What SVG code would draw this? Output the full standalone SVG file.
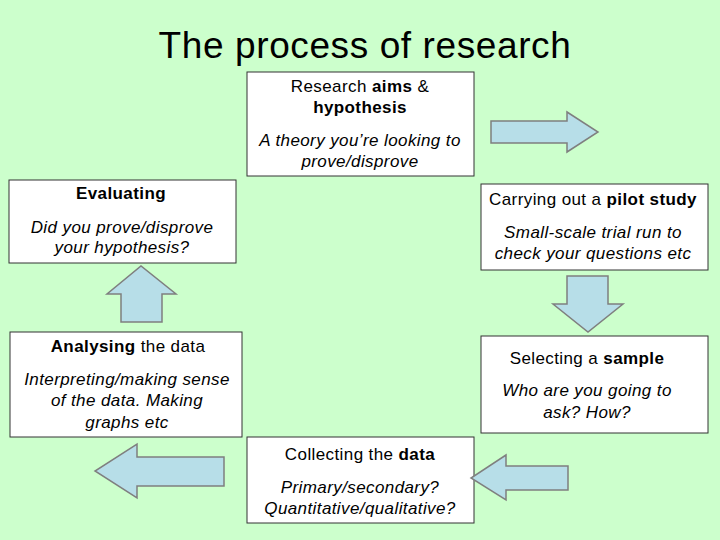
<svg xmlns="http://www.w3.org/2000/svg" width="720" height="540" viewBox="0 0 720 540">
<style>
text{font-family:"Liberation Sans",Arial,sans-serif;font-size:17px;letter-spacing:0.4px;fill:#000;text-anchor:middle}
.t{font-size:37px;letter-spacing:0.6px}
.b{font-weight:bold}
.i{font-style:italic}
.box{fill:#fff;stroke:#333;stroke-width:1}
.arr{fill:#b7dee8;stroke:#7f7f7f;stroke-width:1.5}
</style>
<rect width="720" height="540" fill="#ccffcc"/>
<text class="t" x="365" y="58">The process of research</text>
<g id="aims"><rect class="box" x="247" y="72" width="227" height="104"/>
<text x="360" y="92">Research <tspan class="b">aims</tspan> &amp;</text>
<text x="360" y="113" class="b">hypothesis</text>
<text x="360" y="146" class="i">A theory you’re looking to</text>
<text x="360" y="167" class="i">prove/disprove</text></g>
<g id="evaluating"><rect class="box" x="9" y="180" width="227" height="83"/>
<text x="121" y="199" class="b">Evaluating</text>
<text x="122" y="233" class="i">Did you prove/disprove</text>
<text x="122" y="253" class="i">your hypothesis?</text></g>
<g id="pilot"><rect class="box" x="481" y="184" width="227" height="86"/>
<text x="593" y="205">Carrying out a <tspan class="b">pilot study</tspan></text>
<text x="593" y="238" class="i">Small-scale trial run to</text>
<text x="593" y="259" class="i">check your questions etc</text></g>
<g id="analysing"><rect class="box" x="10" y="332" width="232" height="105"/>
<text x="128" y="352"><tspan class="b">Analysing</tspan> the data</text>
<text x="127" y="385" class="i">Interpreting/making sense</text>
<text x="127" y="406" class="i">of the data.  Making</text>
<text x="127" y="428" class="i">graphs etc</text></g>
<g id="sample"><rect class="box" x="481" y="336" width="227" height="97"/>
<text x="587" y="364">Selecting a <tspan class="b">sample</tspan></text>
<text x="587" y="396" class="i">Who are you going to</text>
<text x="587" y="418" class="i">ask? How?</text></g>
<g id="collecting"><rect class="box" x="247" y="437" width="227" height="86"/>
<text x="360" y="460">Collecting the <tspan class="b">data</tspan></text>
<text x="360" y="493" class="i">Primary/secondary?</text>
<text x="360" y="514" class="i">Quantitative/qualitative?</text></g>
<g id="connectors">
<polygon class="arr" points="491,121 567,121 567,112 598,132 567,152 567,143 491,143"/>
<polygon class="arr" points="567,276 608,276 608,304 623,304 588,332 553,304 567,304"/>
<polygon class="arr" points="121,322 162,322 162,294 176,294 141,266 107,294 121,294"/>
<polygon class="arr" points="224,457 137,457 137,444 95,471 137,498 137,486 224,486"/>
<polygon class="arr" points="568,466 506,466 506,455 471,478 506,500 506,490 568,490"/>
</g>
</svg>
